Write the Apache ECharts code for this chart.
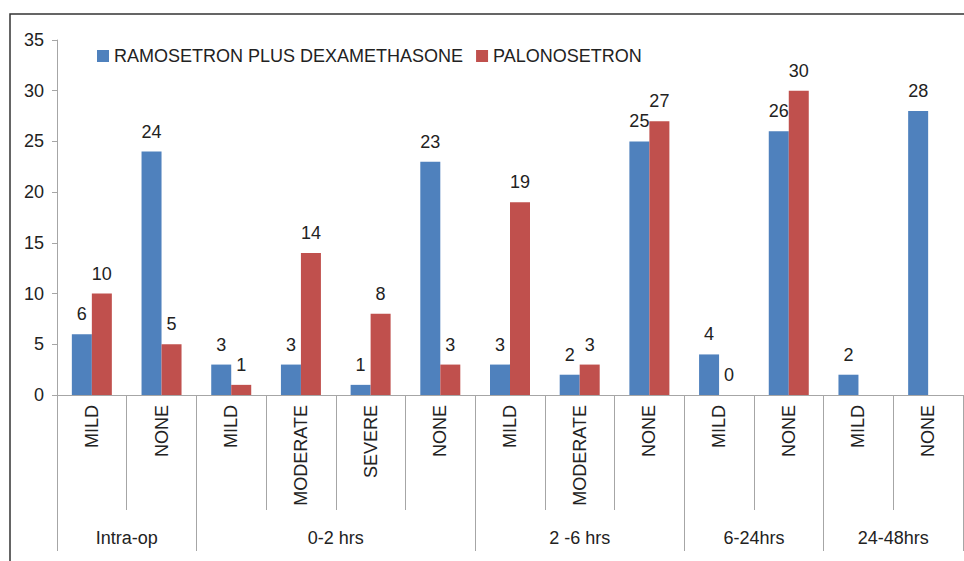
<!DOCTYPE html>
<html lang="en">
<head>
    <meta charset="UTF-8">
    <style>
    body {
        margin: 0;
        padding: 0;
        background-color: #ffffff;
    }
    #chart {
        width: 964px;
        height: 561px;
    }
    </style>
    <script src="https://cdn.jsdelivr.net/npm/echarts@6/dist/echarts.min.js"></script>
</head>
<body>
    <div id="chart"></div>
    <script>
        // severity per period
        const categories = ['MILD', 'NONE', 'MILD', 'MODERATE', 'SEVERE', 'NONE', 'MILD', 'MODERATE', 'NONE', 'MILD', 'NONE', 'MILD', 'NONE'];
        const groups = ['Intra-op', '0-2 hrs', '2 -6 hrs', '6-24hrs', '24-48hrs'];
        const groupEdges = [0, 2, 6, 9, 11, 13];
        const groupCenters = [1, 4, 7.5, 10, 12];
        const ramoDexa = [6, 24, 3, 3, 1, 23, 3, 2, 25, 4, 26, 2, 28];
        const palono = [10, 5, 1, 14, 8, 3, 19, 3, 27, 0, 30, null, null];
        const yTicks = [0, 5, 10, 15, 20, 25, 30, 35];

        const font = '"Liberation Sans", Arial, sans-serif';
        const axisGray = '#a6a6a6';
        const txt = '#222222';
        const fs = 18;

        const chart = echarts.init(document.getElementById('chart'), null, { renderer: 'svg' });

        const barLabel = {
            show: true,
            position: 'top',
            distance: 11,
            color: txt,
            fontSize: fs,
            fontFamily: font
        };

        chart.setOption({
            animation: false,
            textStyle: { fontFamily: font },
            grid: { left: 57, right: 1, top: 40, bottom: 166 },
            legend: {
                left: 92,
                top: 42,
                itemWidth: 12,
                itemHeight: 12,
                itemGap: 13,
                icon: 'rect',
                textStyle: { color: txt, fontSize: fs, fontFamily: font },
                data: ['RAMOSETRON PLUS DEXAMETHASONE', 'PALONOSETRON']
            },
            graphic: [{
                type: 'rect',
                shape: { x: 10, y: 14, width: 1000, height: 600 },
                style: { fill: 'none', stroke: '#333333', lineWidth: 1.5 },
                silent: true
            }],
            xAxis: [
                {
                    type: 'category',
                    data: categories,
                    axisLine: { lineStyle: { color: axisGray } },
                    axisTick: { show: true, interval: 0, length: 115, lineStyle: { color: axisGray } },
                    axisLabel: { interval: 0, rotate: 90, margin: 10, color: txt, fontSize: fs, fontFamily: font }
                },
                {
                    type: 'value',
                    min: 0,
                    max: 13,
                    position: 'bottom',
                    axisLine: { show: false },
                    splitLine: { show: false },
                    axisTick: { show: true, customValues: groupEdges, length: 156, lineStyle: { color: axisGray } },
                    axisLabel: {
                        customValues: groupCenters,
                        margin: 134,
                        color: txt,
                        fontSize: fs,
                        fontFamily: font,
                        formatter: function (v) {
                            return groups[groupCenters.indexOf(v)];
                        }
                    }
                }
            ],
            yAxis: {
                type: 'value',
                min: yTicks[0],
                max: yTicks[yTicks.length - 1],
                interval: 5,
                axisLine: { show: true, lineStyle: { color: axisGray } },
                axisTick: { show: true, length: 5, lineStyle: { color: axisGray } },
                splitLine: { show: false },
                axisLabel: { margin: 13, color: txt, fontSize: fs, fontFamily: font }
            },
            series: [
                {
                    name: 'RAMOSETRON PLUS DEXAMETHASONE',
                    type: 'bar',
                    data: ramoDexa,
                    barWidth: 20,
                    barGap: '0%',
                    itemStyle: { color: '#4F81BD' },
                    label: barLabel
                },
                {
                    name: 'PALONOSETRON',
                    type: 'bar',
                    data: palono,
                    barWidth: 20,
                    barGap: '0%',
                    itemStyle: { color: '#C0504D' },
                    label: barLabel
                }
            ]
        });
    </script>
</body>
</html>
